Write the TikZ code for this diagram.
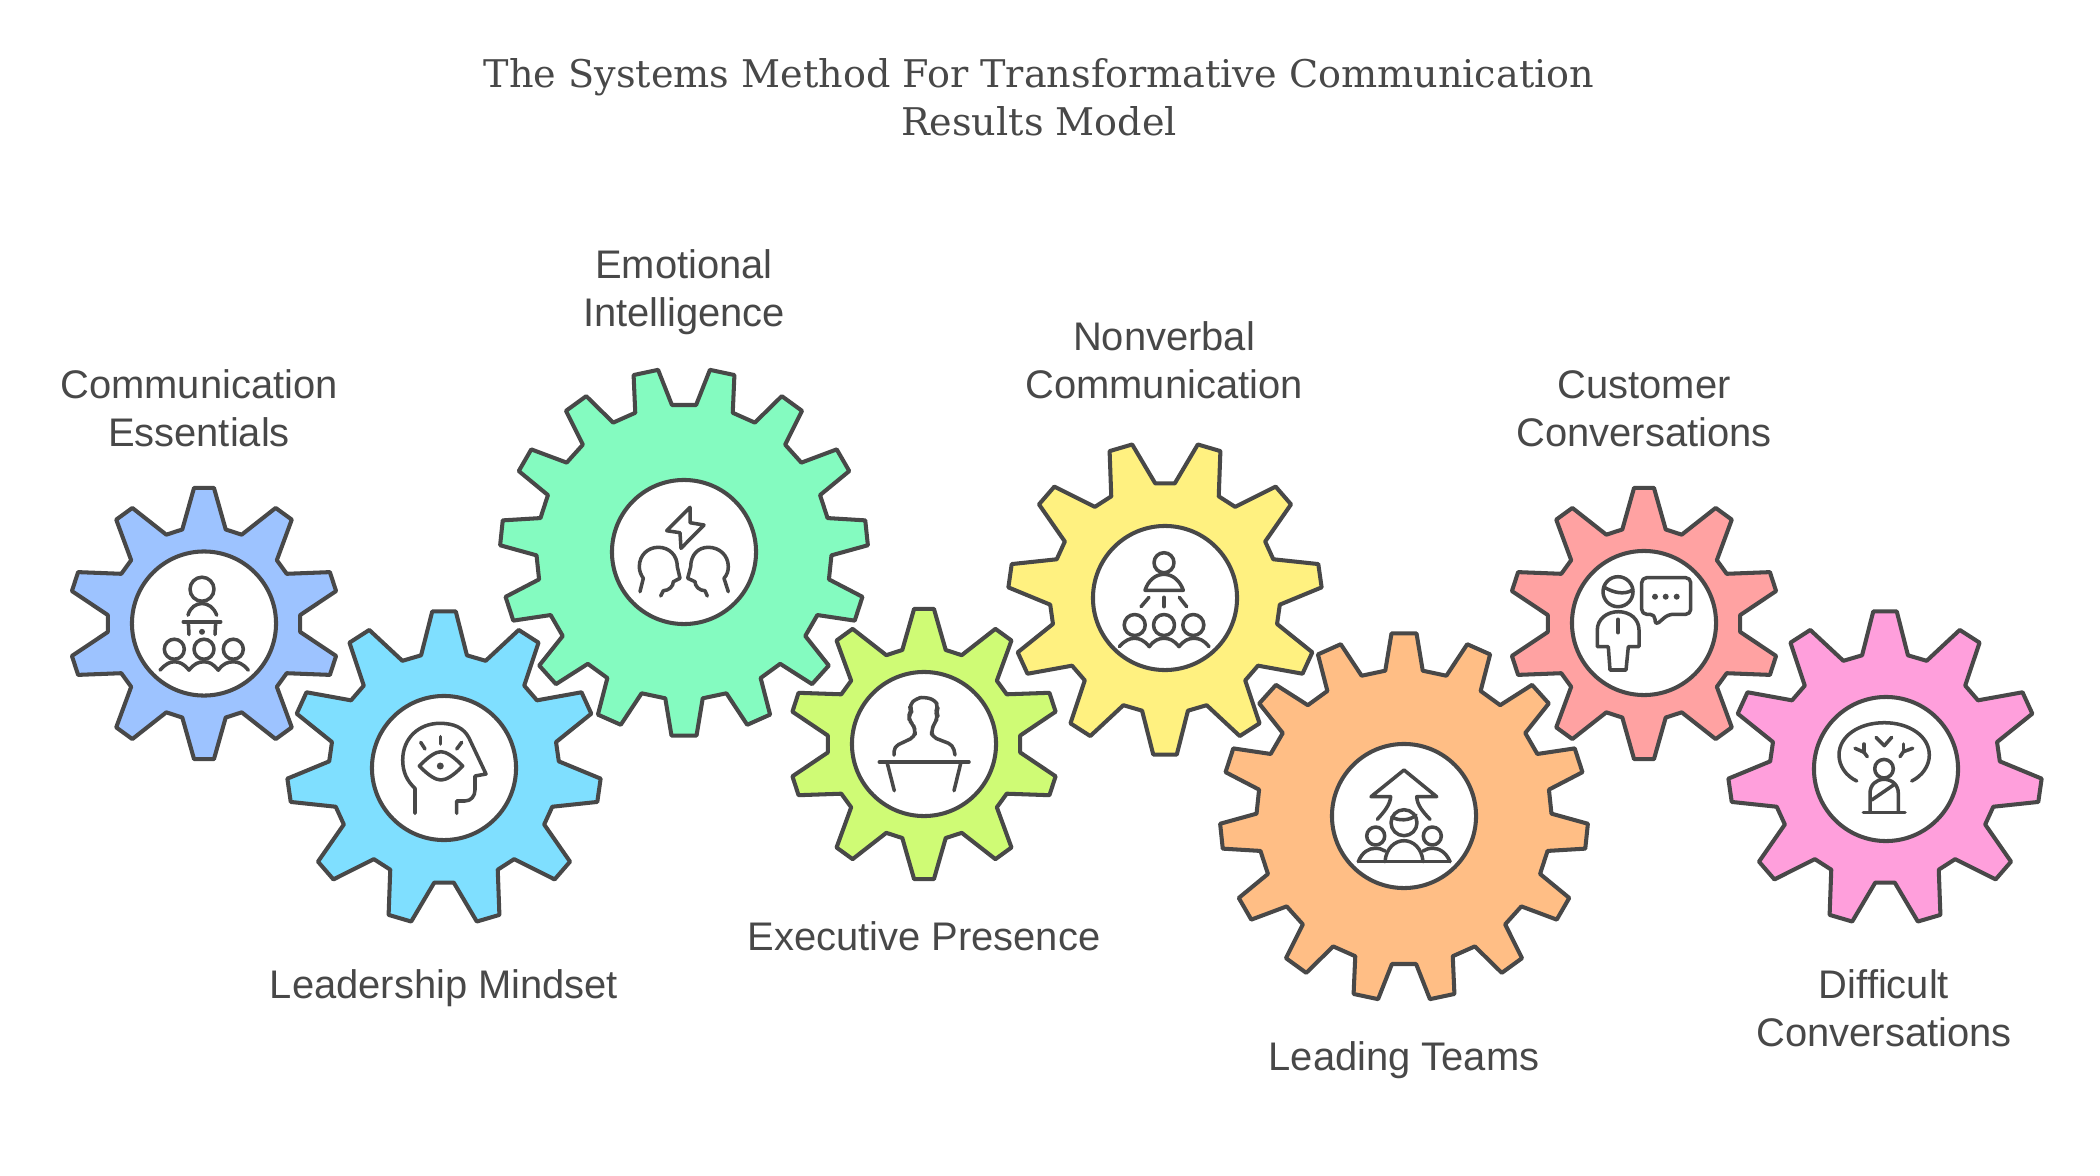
\documentclass[tikz,border=0pt]{standalone}
\usepackage{fontspec}
\setmainfont{Liberation Sans}
\newfontfamily\titlefont{DejaVu Serif}
\usepackage{tikz}

\definecolor{ink}{HTML}{484848}
\definecolor{gearblue}{HTML}{9DC3FF}
\definecolor{gearcyan}{HTML}{7FDFFF}
\definecolor{geargreen}{HTML}{84FBC0}
\definecolor{gearlime}{HTML}{CFFB75}
\definecolor{gearyellow}{HTML}{FFF180}
\definecolor{gearorange}{HTML}{FFBE85}
\definecolor{gearred}{HTML}{FFA2A2}
\definecolor{gearpink}{HTML}{FF9FDC}

% centre, teeth, tip radius, root radius, turn, colour, tip and base half angles
\newcommand{\gearshape}[8]{
  \begin{scope}[shift={(#1)}]
    \draw[gearbody, fill=#6] (-90+#5-#8:#4)
      \foreach \n in {1,...,#2} {
        \pgfextra{\pgfmathsetmacro{\a}{-90+#5+(\n-1)*360/#2}}
        -- (\a-#8:#4) -- (\a-#7:#3) -- (\a+#7:#3) -- (\a+#8:#4)
      } -- cycle;
  \end{scope}
}

\begin{document}
\begin{tikzpicture}[
    x=0.01cm, y=-0.01cm,
    gearbody/.style={draw=ink, line width=1.15pt, line join=round},
    hub/.style={circle, draw=ink, fill=white, line width=1.15pt, minimum size=1.44cm, inner sep=0pt},
    icon/.style={draw=ink, line width=1pt, line cap=round, line join=round},
    dot/.style={fill=ink},
    lbl/.style={text=ink, align=center, inner sep=0pt, font=\fontsize{11.35pt}{13.66pt}\selectfont},
    ttl/.style={text=ink, align=center, inner sep=0pt, font=\titlefont\fontsize{10.85pt}{13.66pt}\selectfont}
  ]
  \useasboundingbox (0,0) rectangle (2100,1176);

  % Title
  \node[ttl] (title) at (1039,97) {The Systems Method For Transformative Communication\\Results Model};

  % Gears
  \gearshape{204,623.5}{10}{136}{96.5}{0}{gearblue}{4.2}{13}
  \gearshape{444,768}{11}{157}{115}{0}{gearcyan}{4.3}{11.5}
  \gearshape{684,552}{15}{184}{147.5}{12}{geargreen}{3.9}{7.3}
  \gearshape{924,744}{10}{135.5}{96.5}{0}{gearlime}{4.2}{13}
  \gearshape{1165,598}{11}{157}{115}{16.36}{gearyellow}{4.3}{11.5}
  \gearshape{1404,817}{15}{184}{147.5}{0}{gearorange}{3.9}{7.3}
  \gearshape{1644,623.5}{10}{136}{96.5}{0}{gearred}{4.2}{13}
  \gearshape{1885,768}{11}{157}{115}{0}{gearpink}{4.3}{11.5}

  % Hubs
  \node[hub] (hubblue) at (204,623.5) {};
  \node[hub] (hubcyan) at (444,768) {};
  \node[hub] (hubgreen) at (684,552) {};
  \node[hub] (hublime) at (924,744) {};
  \node[hub] (hubyellow) at (1165,598) {};
  \node[hub] (huborange) at (1404,816) {};
  \node[hub] (hubred) at (1644,623) {};
  \node[hub] (hubpink) at (1886,769) {};

  % Labels
  \node[lbl] (essentials) at (199,408) {Communication\\Essentials};
  \node[lbl] (mindset) at (444,988) {Leadership Mindset};
  \node[lbl] (intelligence) at (684,292) {Emotional\\Intelligence};
  \node[lbl] (presence) at (924,936) {Executive Presence};
  \node[lbl] (nonverbal) at (1164,360) {Nonverbal\\Communication};
  \node[lbl] (teams) at (1404,1060) {Leading Teams};
  \node[lbl] (customer) at (1644,409) {Customer\\Conversations};
  \node[lbl] (difficult) at (1884,1008) {Difficult\\Conversations};

  % Speaker and audience
  \begin{scope}[shift={(hubblue.center)}]
    \draw[icon] (-2,-34.3) circle[radius=12];
    \draw[icon] (-16,-8.3) .. controls (-14,-16) and (-8,-20) .. (-2,-20) .. controls (4,-20) and (10,-16) .. (12.7,-8.3);
    \draw[icon] (-20.7,-1.7) -- (16.7,-1.7);
    \draw[icon] (-15.7,-1.7) -- (-15,11);
    \draw[icon] (11.7,-1.7) -- (11,11);
    \fill[dot] (-2,8.3) circle[radius=3];
    \foreach \x in {-29.7,0,29.3} \draw[icon] (\x,25.7) circle[radius=10];
    \draw[icon] (-44,46.7) .. controls (-38,40) and (-34,38.3) .. (-29.5,38.3) .. controls (-25,38.3) and (-20,40) .. (-15,46.7)
      .. controls (-10,40) and (-5,38.3) .. (0,38.3) .. controls (5,38.3) and (9,40) .. (14.3,46.7)
      .. controls (19,40) and (24,38.3) .. (29.3,38.3) .. controls (34,38.3) and (39,40) .. (44.3,46.7);
  \end{scope}

  % Head with eye
  \begin{scope}[shift={(hubcyan.center)}]
    \draw[icon] (-29,45.3) -- (-29,20.3) .. controls (-37,13) and (-41.3,4) .. (-41.3,-8)
      .. controls (-41.3,-30) and (-25,-44.7) .. (-4,-44.7) .. controls (10,-44.7) and (20,-40) .. (25,-30)
      -- (42,6) -- (31,8) -- (31,22) .. controls (31,28) and (27,33) .. (21,33) -- (12.7,33) -- (12.7,45.3);
    \draw[icon] (-24.7,-2) .. controls (-15,-12) and (-8,-16.3) .. (-3,-16.3) .. controls (2,-16.3) and (9,-12) .. (18.7,-2)
      .. controls (9,8) and (2,12) .. (-3,12) .. controls (-8,12) and (-15,8) .. (-24.7,-2) -- cycle;
    \fill[dot] (-3.7,-2) circle[radius=3.5];
    \draw[icon] (-3.3,-31.3) -- (-3.3,-24);
    \draw[icon] (-23.3,-25.7) -- (-19,-19);
    \draw[icon] (17.7,-25.7) -- (12.7,-19);
  \end{scope}

  % Two heads and a bolt
  \begin{scope}[shift={(hubgreen.center)}]
    \draw[icon] (6,-44.7) -- (-17.3,-21.3) -- (-4,-19.3) -- (-3,-3.7) -- (20,-27) -- (6,-29.3) -- cycle;
    \draw[icon] (-44,39.7) -- (-40.7,26.3) .. controls (-43,23) and (-44.7,19) .. (-44.7,14.7)
      .. controls (-44.7,3) and (-36,-4.7) .. (-25.7,-4.7) .. controls (-15,-4.7) and (-6.7,3) .. (-6.7,14.7)
      -- (-4,26.3) -- (-10.7,29.7) .. controls (-10.5,34) and (-15,38.7) .. (-20.7,38.7) -- (-23.3,44);
    \draw[icon] (44.3,39.7) -- (40,26.3) .. controls (43,23) and (44.3,19) .. (44.3,14.7)
      .. controls (44.3,3) and (35,-4.7) .. (24.3,-4.7) .. controls (14,-4.7) and (6.7,3) .. (6.7,14.7)
      -- (3.7,26.3) -- (11,29.7) .. controls (11,34) and (15,38.7) .. (21,38.7) -- (23.3,44);
  \end{scope}

  % Person at a lectern
  \begin{scope}[shift={(hublime.center)}]
    \draw[icon] (-44.7,18) -- (45,18);
    \draw[icon] (-36.7,19.3) -- (-29.7,46.7);
    \draw[icon] (36.7,19.3) -- (30,46.7);
    \draw[icon, rounded corners=1.4pt] (-30,11) -- (-30,2.7) -- (-9,-7.3) -- (-9,-14) -- (-10.7,-19) -- (-15,-24) -- (-15,-29)
      -- (-12,-33) -- (-15,-39) -- (-7.3,-45.7) -- (0,-47) -- (11,-44) -- (14.3,-37) -- (11.7,-32) -- (14.3,-27)
      -- (10.3,-20.7) -- (7.7,-14) -- (7.7,-7.3) -- (29,1) -- (31,11);
  \end{scope}

  % Speaker above a group
  \begin{scope}[shift={(hubyellow.center)}]
    \draw[icon] (-1,-35.3) circle[radius=10];
    \draw[icon] (-20,-7.7) .. controls (-17,-17) and (-10,-23.7) .. (-1,-23.7) .. controls (8,-23.7) and (15,-17) .. (18.3,-7.7) -- cycle;
    \draw[icon] (-16,-0.7) -- (-24,8.7);
    \draw[icon] (-1,-0.7) -- (-1,8.7);
    \draw[icon] (14.3,-0.7) -- (21.7,8.7);
    \foreach \x in {-30.3,-1,28.3} \draw[icon] (\x,27) circle[radius=10.5];
    \draw[icon] (-45.7,48.7) .. controls (-40,42) and (-35,40.3) .. (-30.5,40.3) .. controls (-26,40.3) and (-21,42) .. (-15.7,48.7)
      .. controls (-11,42) and (-6,40.3) .. (-1,40.3) .. controls (4,40.3) and (9,42) .. (14,48.7)
      .. controls (19,42) and (24,40.3) .. (29,40.3) .. controls (34,40.3) and (39,42) .. (44,48.7);
  \end{scope}

  % Group under an arrow
  \begin{scope}[shift={(huborange.center)}]
    \draw[icon] (-26.7,3.3) .. controls (-20,-4) and (-14,-11) .. (-13.3,-19.3) -- (-33,-19.3) -- (0,-46) -- (32.7,-19.3) -- (12.7,-19.3)
      .. controls (13,-11) and (19,-4) .. (26,3.3);
    \draw[icon] (0,6.7) circle[radius=13];
    \draw[icon] (-12,1) .. controls (-6,5) and (6,5) .. (12,-1);
    \draw[icon] (-28.3,20) circle[radius=9];
    \draw[icon] (28.3,20) circle[radius=9];
    \draw[icon] (-45.7,45.7) -- (46,45.7);
    \draw[icon] (-19,45.7) .. controls (-18,32) and (-9,24.7) .. (0,24.7) .. controls (9,24.7) and (18,32) .. (19,45.7);
    \draw[icon] (-45.7,45.7) .. controls (-42,36) and (-35,32.3) .. (-29,32.3) .. controls (-25,32.3) and (-22,33) .. (-19,35);
    \draw[icon] (46,45.7) .. controls (42,36) and (35,32.3) .. (29,32.3) .. controls (25,32.3) and (22,33) .. (19,35);
  \end{scope}

  % Person with speech bubble
  \begin{scope}[shift={(hubred.center)}]
    \draw[icon] (-26,-31.3) circle[radius=15];
    \draw[icon] (-40.3,-36) .. controls (-30,-30) and (-20,-28) .. (-11.3,-33);
    \draw[icon] (-46.7,23.7) -- (-46.7,7) .. controls (-46.7,-4) and (-37,-11.3) .. (-25.7,-11.3) .. controls (-14,-11.3) and (-5,-4) .. (-5,7)
      -- (-5,23.7) -- (-15.7,23.7) -- (-18,47) -- (-34,47) -- (-35.7,23.7) -- cycle;
    \draw[icon] (-26,-3.7) -- (-26,9.7);
    \draw[icon, rounded corners=1.4pt] (11,-8.7) -- (-2.3,-8.7) -- (-2.3,-45.3) -- (46.7,-45.3) -- (46.7,-8.7) -- (24.3,-8.7) -- (11,2.7) -- cycle;
    \foreach \x in {11,21.7,32.7} \fill[dot] (\x,-26.3) circle[radius=3];
  \end{scope}

  % Calm figure under a thought
  \begin{scope}[shift={(hubpink.center)}]
    \draw[icon] (-29.3,12) .. controls (-40,7) and (-47,-3) .. (-47,-14) .. controls (-47,-33) and (-27,-46.3) .. (-1.7,-46.3)
      .. controls (23,-46.3) and (43.3,-33) .. (43.3,-14) .. controls (43.3,-3) and (36,7) .. (25.7,12);
    \draw[icon] (-10,-31.7) -- (-1.7,-23.3) -- (5.7,-31.7);
    \draw[icon] (-31,-20.7) -- (-22,-16.7) -- (-18.7,-12.3);
    \draw[icon] (-22,-25) -- (-22,-16.7);
    \draw[icon] (26.7,-20.7) -- (17.3,-17.3) -- (14,-12.3);
    \draw[icon] (17.3,-25) -- (17.3,-17.3);
    \draw[icon] (-2,-0.3) circle[radius=9.3];
    \draw[icon] (-16,42.7) -- (-16,24.3) .. controls (-16,16) and (-10,10.3) .. (-2,10.3) .. controls (6,10.3) and (12.3,16) .. (12.3,24.3) -- (12.3,42.7);
    \draw[icon] (-22.7,43.7) -- (19,43.7);
    \draw[icon] (-14.3,31) -- (9,15);
  \end{scope}
\end{tikzpicture}
\end{document}
